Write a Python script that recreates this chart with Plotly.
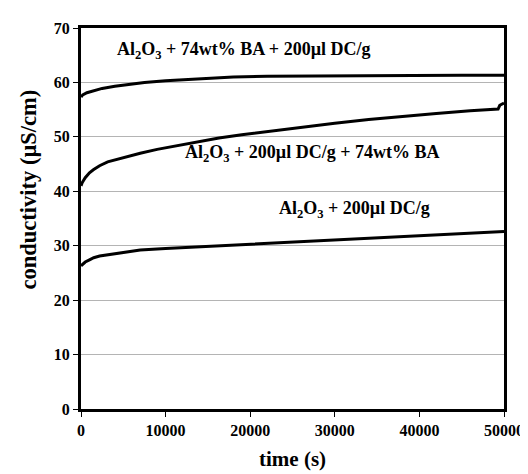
import plotly.graph_objects as go

# time (s)
t_top = [0, 200, 700, 1500, 2500, 4000, 5500, 7500, 10000, 12000, 15000, 18000, 22000, 26000, 30000, 35000, 40000, 45000, 50000]
y_top = [57.3, 57.7, 58.1, 58.5, 58.9, 59.3, 59.6, 60.0, 60.3, 60.5, 60.8, 61.0, 61.15, 61.2, 61.25, 61.3, 61.3, 61.3, 61.3]

t_mid = [0, 150, 500, 1000, 1500, 2200, 3150, 4500, 7000, 9000, 11000, 13500, 16300, 19000, 22000, 26000, 30000, 34000, 38000, 42000, 46000, 49300, 49500, 50000]
y_mid = [41.0, 41.6, 42.5, 43.4, 44.0, 44.7, 45.4, 46.0, 47.0, 47.7, 48.3, 49.0, 49.8, 50.4, 51.0, 51.8, 52.5, 53.2, 53.8, 54.3, 54.8, 55.1, 55.8, 56.2]

t_bot = [0, 200, 500, 1000, 1500, 2200, 3150, 5000, 7000, 10000, 15000, 20000, 25000, 30000, 35000, 40000, 45000, 50000]
y_bot = [26.3, 26.6, 27.0, 27.4, 27.8, 28.1, 28.3, 28.8, 29.2, 29.5, 29.9, 30.3, 30.7, 31.1, 31.5, 31.9, 32.3, 32.6]

labels = [
    "Al<sub>2</sub>O<sub>3</sub> + 74wt% BA + 200µl DC/g",
    "Al<sub>2</sub>O<sub>3</sub> + 200µl DC/g + 74wt% BA",
    "Al<sub>2</sub>O<sub>3</sub> + 200µl DC/g",
]
label_x = [19230, 27400, 32350]
label_y = [65.9, 47.0, 36.7]

x_ticks = [0, 10000, 20000, 30000, 40000, 50000]
y_ticks = [0, 10, 20, 30, 40, 50, 60, 70]

x_title = "time (s)"
y_title = "conductivity (µS/cm)"

FONT = "Liberation Serif, Times New Roman, serif"

fig = go.Figure()
for tx, ty in [(t_top, y_top), (t_mid, y_mid), (t_bot, y_bot)]:
    fig.add_trace(go.Scatter(x=tx, y=ty, mode="lines",
                             line=dict(color="black", width=3),
                             showlegend=False, hoverinfo="skip"))

for lab, lx, ly in zip(labels, label_x, label_y):
    fig.add_annotation(x=lx, y=ly, text="<b>" + lab + "</b>", showarrow=False,
                       font=dict(family=FONT, size=18, color="black"),
                       xanchor="center", yanchor="middle")

# axis titles placed as annotations for precise positioning
fig.add_annotation(xref="paper", yref="paper", x=0.501, y=-0.132,
                   text="<b>" + x_title + "</b>", showarrow=False,
                   font=dict(family=FONT, size=21, color="black"),
                   xanchor="center", yanchor="middle")
fig.add_annotation(xref="paper", yref="paper", x=-0.124, y=0.575,
                   text="<b>" + y_title + "</b>", showarrow=False, textangle=-90,
                   font=dict(family=FONT, size=22.5, color="black"),
                   xanchor="center", yanchor="middle")

fig.update_layout(
    width=528, height=474,
    margin=dict(l=73, r=26, t=12, b=73),
    plot_bgcolor="white", paper_bgcolor="white",
    font=dict(family=FONT, color="black"),
    showlegend=False,
)
fig.update_xaxes(
    range=[0, 50000], tickvals=x_ticks, ticktext=["<b>%d</b>" % v for v in x_ticks],
    tickfont=dict(family=FONT, size=16, color="black"),
    showgrid=False, zeroline=False,
    showline=True, linecolor="black", linewidth=3, mirror=True,
    ticks="outside", ticklen=5, tickwidth=1, tickcolor="black",
)
fig.update_yaxes(
    range=[0, 70], tickvals=y_ticks, ticktext=["<b>%d</b>" % v for v in y_ticks],
    tickfont=dict(family=FONT, size=16, color="black"),
    showgrid=True, gridcolor="#b4b4b4", gridwidth=1, zeroline=False,
    showline=True, linecolor="black", linewidth=3, mirror=True,
    ticks="outside", ticklen=5, tickwidth=1, tickcolor="black",
)

fig.write_html("out.html")
